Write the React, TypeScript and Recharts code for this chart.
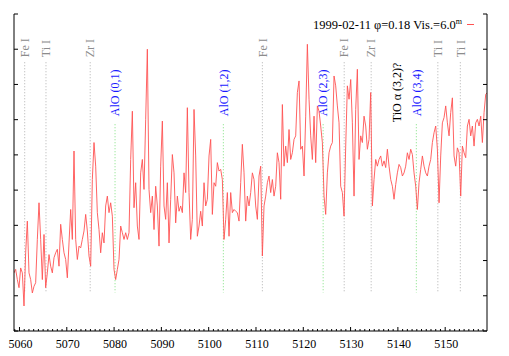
import { LineChart, Line, XAxis, YAxis, ReferenceLine } from 'recharts';

// spectrum: linear dispersion, flux in arbitrary units (one unit per y tick)
const lambda0 = 5058.84;
const dispersion = 0.3524;
const flux = [
  1.65, 1.75, 1.46, 1.23, 1.79, 1.65, 0.71, 2.22, 3.12, 1.65,
  1.46, 1.08, 1.27, 1.37, 2.6, 3.64, 2.6, 1.46, 2.74, 1.23,
  1.65, 2.17, 1.84, 1.65, 2.08, 2.22, 2.32, 1.84, 3.03, 2.6,
  2.22, 2.03, 1.51, 2.5, 3.45, 2.6, 5.11, 2.6, 2.03, 2.41,
  2.36, 2.6, 2.84, 3.31, 2.84, 2.13, 1.84, 4.3, 5.35, 4.68,
  3.36, 2.88, 2.22, 2.79, 2.5, 3.55, 3.83, 3.36, 3.64, 3.26,
  1.75, 1.46, 1.75, 2.03, 2.98, 2.79, 2.6, 2.79, 2.6, 2.79,
  4.87, 6.24, 3.5, 4.21, 2.98, 2.6, 4.49, 4.87, 4.02, 6.01,
  8.0, 4.02, 3.36, 3.83, 2.88, 4.11, 3.55, 2.41, 4.68, 5.96,
  3.55, 3.17, 4.21, 2.5, 3.74, 5.01, 4.49, 3.07, 3.83, 3.4,
  3.55, 3.36, 4.49, 3.93, 6.34, 3.93, 2.6, 3.17, 6.29, 4.97,
  2.69, 2.98, 3.4, 2.98, 4.21, 3.55, 3.74, 4.97, 5.44, 3.31,
  4.21, 4.11, 4.78, 4.54, 4.59, 4.3, 2.6, 3.17, 3.93, 2.69,
  3.93, 3.36, 3.45, 3.4, 3.36, 3.12, 4.21, 5.3, 4.49, 3.12,
  3.83, 3.55, 3.93, 4.49, 4.3, 3.55, 3.17, 4.4, 4.68, 2.13,
  3.55, 3.83, 4.21, 4.4, 3.93, 4.3, 3.83, 4.11, 5.06, 4.78,
  3.74, 6.43, 4.68, 5.25, 4.78, 5.72, 4.87, 5.06, 5.44, 5.54,
  6.77, 7.1, 5.16, 5.25, 4.4, 6.1, 8.14, 6.58, 5.54, 4.87,
  6.1, 4.78, 6.39, 6.24, 5.82, 5.35, 3.83, 3.31, 4.49, 5.06,
  5.25, 5.35, 7.24, 6.96, 6.39, 5.91, 4.11, 3.93, 3.26, 5.25,
  6.96, 6.58, 7.14, 5.91, 3.83, 6.29, 7.43, 4.87, 5.54, 5.35,
  6.1, 5.82, 5.16, 5.44, 6.77, 3.55, 4.3, 4.87, 4.68, 4.87,
  4.97, 4.68, 4.83, 4.64, 5.16, 4.68, 4.3, 4.11, 3.74, 4.16,
  4.49, 4.73, 4.64, 4.4, 4.49, 4.68, 5.06, 4.87, 5.16, 5.01,
  4.49, 4.11, 3.45, 4.21, 4.59, 4.97, 4.68, 4.49, 4.4, 4.68,
  4.87, 5.35, 5.63, 5.82, 5.16, 3.64, 4.97, 5.91, 6.06, 6.39,
  5.91, 5.54, 6.2, 6.62, 4.97, 4.68, 5.2, 5.06, 3.83, 5.25,
  5.06, 4.92, 5.82, 6.01, 5.54, 5.82, 5.25, 5.91, 6.01, 5.82,
  6.1, 5.35, 6.2, 6.72, 6.77,
];

// line identifications
const markNames = ['Fe I', 'Ti I', 'Zr I', 'AlO (0,1)', 'AlO (1,2)', 'Fe I', 'AlO (2,3)', 'Fe I', 'Zr I', 'TiO \u03b1 (3,2)?', 'AlO (3,4)', 'Ti I', 'Ti I'];
const markWaves = [5061.1, 5065.6, 5074.95, 5080.2, 5103.1, 5111.35, 5124.2, 5128.65, 5134.35, 5139.8, 5143.9, 5148.45, 5153.2];
const markKinds = ['atom', 'atom', 'atom', 'alo', 'alo', 'atom', 'alo', 'atom', 'atom', 'tio', 'alo', 'atom', 'atom'];

const xMajor = [5060, 5070, 5080, 5090, 5100, 5110, 5120, 5130, 5140, 5150];
const xMinor = Array.from({ length: 100 }, (_, i) => 5059 + i);
const yTicks = [0, 1, 2, 3, 4, 5, 6, 7, 8, 9];

const rows = flux.map((f, i) => ({ w: lambda0 + i * dispersion, f }));

const FONT = '"Liberation Serif", "DejaVu Serif", serif';
const RED = '#ff5252';

const BottomTick = (p: any) => {
  const major = xMajor.includes(p.payload.value);
  return (
    <g>
      <line x1={p.x} x2={p.x} y1={p.y} y2={p.y - (major ? 4 : 2)} stroke="#000" />
      {major && (
        <text x={p.x + 1} y={p.y + 17} textAnchor="middle" fontSize={12} fontFamily={FONT} fill="#000">
          {p.payload.value}
        </text>
      )}
    </g>
  );
};

const TopTick = (p: any) => {
  const major = xMajor.includes(p.payload.value);
  return <line x1={p.x} x2={p.x} y1={p.y} y2={p.y + (major ? 4 : 2)} stroke="#000" />;
};

const LeftTick = (p: any) => <line x1={p.x} x2={p.x + 4} y1={p.y} y2={p.y} stroke="#000" />;
const RightTick = (p: any) => <line x1={p.x} x2={p.x - 4} y1={p.y} y2={p.y} stroke="#000" />;

const styleOf = (kind: string) => {
  if (kind === 'alo') return { text: '#1a1aff', line: '#7fe07f', top: 5.87, gap: 8, show: true };
  if (kind === 'tio') return { text: '#000', line: 'none', top: 5.87, gap: 2, show: false };
  return { text: '#8c8c8c', line: '#b0b0b0', top: 7.63, gap: 5, show: true };
};

const markShape = (name: string, kind: string) => (p: any) => {
  const s = styleOf(kind);
  const x = p.x1;
  const top = Math.min(p.y1, p.y2);
  const bottom = Math.max(p.y1, p.y2);
  return (
    <g>
      {s.show && <line x1={x} x2={x} y1={top} y2={bottom} stroke={s.line} strokeDasharray="1 2" />}
      <text
        transform={`translate(${x},${top - s.gap}) rotate(-90)`}
        dy="0.35em"
        fontSize={12}
        fontFamily={FONT}
        fill={s.text}
      >
        {name}
      </text>
    </g>
  );
};

export default function App() {
  return (
    <div style={{ position: 'absolute', left: 0, top: 0, width: 509, height: 356, background: '#fff' }}>
      <LineChart width={509} height={356} data={rows} margin={{ top: 14, right: 0, bottom: 0, left: 0 }}>
        <XAxis
          xAxisId="b"
          dataKey="w"
          type="number"
          domain={[5058.84, 5158.84]}
          allowDataOverflow
          ticks={xMinor}
          interval={0}
          height={25}
          tickLine={false}
          tickSize={0}
          tickMargin={0}
          axisLine={{ stroke: '#000' }}
          tick={<BottomTick />}
        />
        <XAxis
          xAxisId="t"
          orientation="top"
          dataKey="w"
          type="number"
          domain={[5058.84, 5158.84]}
          allowDataOverflow
          ticks={xMinor}
          interval={0}
          height={0}
          tickLine={false}
          tickSize={0}
          tickMargin={0}
          axisLine={{ stroke: '#000' }}
          tick={<TopTick />}
        />
        <YAxis
          yAxisId="l"
          type="number"
          domain={[0, 9]}
          allowDataOverflow
          ticks={yTicks}
          interval={0}
          width={14}
          tickLine={false}
          tickSize={0}
          tickMargin={0}
          axisLine={{ stroke: '#000' }}
          tick={<LeftTick />}
        />
        <YAxis
          yAxisId="r"
          orientation="right"
          type="number"
          domain={[0, 9]}
          allowDataOverflow
          ticks={yTicks}
          interval={0}
          width={22}
          tickLine={false}
          tickSize={0}
          tickMargin={0}
          axisLine={{ stroke: '#000' }}
          tick={<RightTick />}
        />
        {markWaves.map((w, i) => (
          <ReferenceLine
            key={i}
            xAxisId="b"
            yAxisId="l"
            segment={[{ x: w, y: 1.09 }, { x: w, y: styleOf(markKinds[i]).top }]}
            shape={markShape(markNames[i], markKinds[i])}
          />
        ))}
        <Line
          xAxisId="b"
          yAxisId="l"
          dataKey="f"
          type="linear"
          stroke={RED}
          strokeWidth={0.9}
          dot={false}
          isAnimationActive={false}
        />
      </LineChart>
      <svg width={509} height={40} style={{ position: 'absolute', left: 0, top: 0, pointerEvents: 'none' }}>
        <text x={462} y={29} textAnchor="end" fontSize={12.5} fontFamily={FONT} fill="#000">
          1999-02-11 {'\u03c6'}=0.18 Vis.=6.0
          <tspan fontSize={8} dy={-5}>m</tspan>
        </text>
        <line x1={467} x2={474} y1={24.5} y2={24.5} stroke={RED} />
      </svg>
    </div>
  );
}
